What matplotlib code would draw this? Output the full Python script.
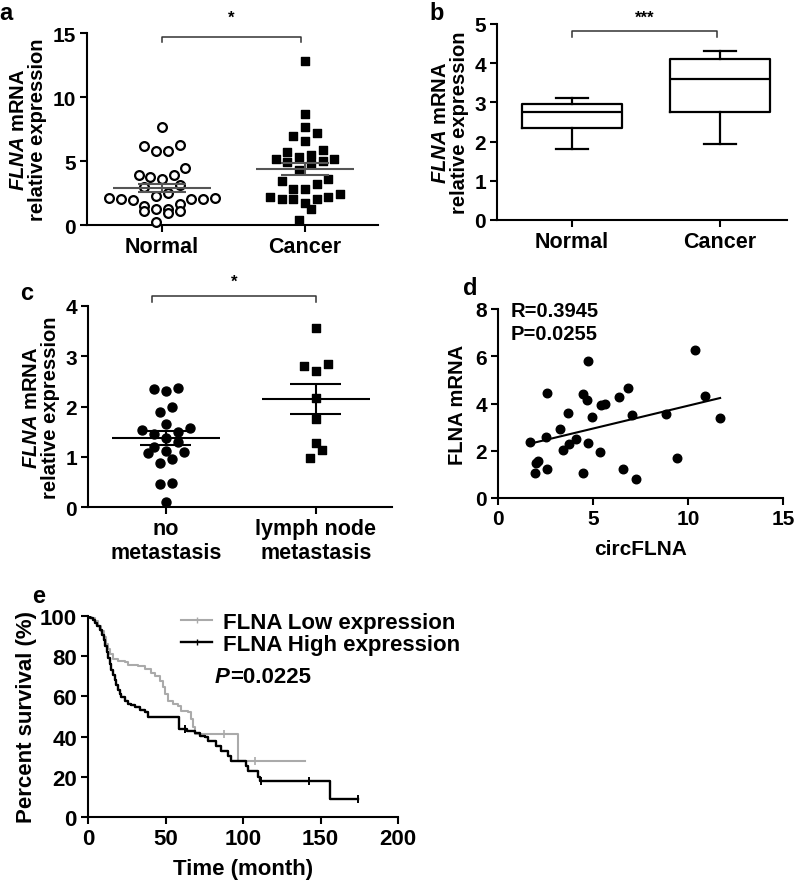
import numpy as np
import matplotlib
matplotlib.use("Agg")
import matplotlib.pyplot as plt
from matplotlib.lines import Line2D

plt.rcParams["font.family"] = ["Liberation Sans", "DejaVu Sans"]
plt.rcParams["font.weight"] = "bold"
plt.rcParams["axes.labelweight"] = "bold"
plt.rcParams["mathtext.fontset"] = "custom"
plt.rcParams["mathtext.rm"] = "Liberation Sans:bold"
plt.rcParams["mathtext.it"] = "Liberation Sans:italic:bold"
plt.rcParams["mathtext.bf"] = "Liberation Sans:bold"

# =============================================================================
# DATA
# =============================================================================

# --- panel a: scatter, Normal vs Cancer
GROUPS_AB = ["Normal", "Cancer"]
a_normal = [7.63, 6.27, 6.19, 5.80, 5.80, 4.49, 3.92, 3.92, 3.76, 3.58, 3.10,
            2.95, 2.53, 2.27, 2.09, 2.09, 2.01, 2.01, 2.01, 1.93, 1.62, 1.49,
            1.28, 1.28, 1.10, 1.10, 0.97, 0.26]
a_cancer = [12.8, 8.7, 7.68, 7.16, 6.98, 6.6, 5.85, 5.67, 5.49, 5.28, 5.15,
            5.15, 4.98, 4.96, 4.75, 4.30, 3.58, 3.45, 3.20, 2.82, 2.78, 2.40,
            2.22, 2.18, 2.07, 2.05, 2.02, 1.75, 1.28, 0.42]
a_mean = [2.89, 4.36]
a_sem = [0.33, 0.47]

# --- panel b: box plot
b_whislo = [1.80, 1.93]
b_q1 = [2.35, 2.75]
b_med = [2.75, 3.60]
b_q3 = [2.97, 4.10]
b_whishi = [3.10, 4.32]

# --- panel c: scatter, metastasis
GROUPS_C = ["no\nmetastasis", "lymph node\nmetastasis"]
c_nometa = [2.36, 2.35, 2.30, 2.00, 1.90, 1.66, 1.57, 1.53, 1.50, 1.45, 1.38,
            1.30, 1.20, 1.12, 1.10, 1.07, 0.96, 0.88, 0.47, 0.46, 0.10]
c_lymph = [3.56, 2.85, 2.81, 2.71, 2.16, 1.75, 1.28, 1.14, 0.97]
c_mean = [1.37, 2.15]
c_sem = [0.14, 0.30]

# --- panel d: correlation
d_circ = [1.67, 1.93, 2.02, 2.11, 2.50, 2.58, 2.58, 3.25, 3.41, 3.67, 3.72,
          4.13, 4.46, 4.48, 4.69, 4.73, 4.75, 4.96, 5.36, 5.40, 5.61, 6.36,
          6.57, 6.84, 7.03, 7.24, 8.86, 9.40, 10.35, 10.88, 11.69]
d_flna = [2.36, 1.06, 1.47, 1.55, 2.57, 4.43, 1.23, 2.92, 2.05, 3.60, 2.28,
          2.50, 4.40, 1.06, 4.16, 2.33, 5.78, 3.44, 1.93, 3.94, 3.98, 4.26,
          1.23, 4.65, 3.53, 0.80, 3.55, 1.68, 6.28, 4.33, 3.37]

# --- panel e: Kaplan-Meier steps
low_t = [0, 2, 4.3, 6.5, 8.6, 10, 11.8, 13, 14, 16.1, 19.4, 23.7, 25.8, 32.3,
         36.6, 40.9, 43, 46.2, 48.4, 49.5, 51.6, 54.8, 58.1, 60.2, 64.5, 66.7,
         67.8, 68.8, 96.8, 139.8]
low_s = [100, 99, 97.5, 95, 92.6, 89.5, 86, 83.5, 81, 78.5, 77.7, 76.9, 75.7,
         75.2, 73.6, 71.4, 70.2, 67.8, 64.5, 61.2, 57.9, 56.2, 55.4, 52.9, 52,
         48.8, 45, 41.3, 28, 28]
low_cens_t = [88.0, 107.5]
low_cens_s = [41.3, 28]

high_t = [0, 1.5, 3, 4.5, 6, 7.5, 9, 10, 11, 12, 13, 14, 15, 16, 17.2, 18.3,
          19.4, 20.5, 21.5, 23.7, 26, 28, 30.1, 33.3, 36.6, 38.7, 58.7, 64,
          68.8, 72, 75.3, 77.4, 82.8, 86, 90.3, 92.5, 102, 103.2, 109.7,
          110.8, 155.9, 174.2]
high_s = [100, 99, 98, 96.5, 95, 93, 90.5, 88, 85, 82, 79, 76, 73, 70.5, 68,
          65.5, 63, 61, 59.5, 57.5, 56.2, 55.5, 54.5, 53.2, 52, 49.6, 43.8,
          43.0, 42, 40.5, 39.7, 37.7, 35.5, 33, 30.6, 28, 25.6, 23.1, 19.8,
          18.2, 9.1, 9.1]
high_cens_t = [62.4, 111.8, 142.4, 174.2]
high_cens_s = [43.8, 18.2, 18.2, 9.1]


# =============================================================================
# HELPERS
# =============================================================================

W, H = 797, 887


def px_axes(fig, left, top, right, bottom):
    """Add axes from pixel edges of the reference image."""
    return fig.add_axes([left / W, 1 - bottom / H, (right - left) / W,
                         (bottom - top) / H])


def style_axes(ax, size=15):
    for s in ("top", "right"):
        ax.spines[s].set_visible(False)
    for s in ("left", "bottom"):
        ax.spines[s].set_linewidth(1.5)
    ax.tick_params(width=1.5, length=5, labelsize=size, direction="out",
                   pad=3)


def scatter_x(ax, center, values, step_px):
    """GraphPad-like column scatter: bin by y, spread each row symmetrically."""
    trans = ax.transData
    inv = trans.inverted()
    cx = trans.transform((center, 0))[0]
    order = np.argsort(values)
    ypx = trans.transform(np.column_stack([np.full(len(values), center),
                                           values]))[:, 1]
    out = np.zeros(len(values))
    rows, row = [], []
    for i in order:
        if row and ypx[i] - ypx[row[0]] >= step_px:
            rows.append(row)
            row = []
        row.append(i)
    rows.append(row)
    for row in rows:
        n = len(row)
        offs = sorted(np.arange(n) - (n - 1) / 2, key=lambda o: (abs(o), o))
        for i, o in zip(row, offs):
            out[i] = inv.transform((cx + o * step_px, ypx[i]))[0]
    return out


def mean_sem(ax, x, mean, sem, color, half=0.34, cap=0.17):
    ax.hlines(mean, x - half, x + half, color=color, lw=1.5, zorder=5)
    ax.hlines([mean - sem, mean + sem], x - cap, x + cap, color=color,
              lw=1.5, zorder=5)
    ax.vlines(x, mean - sem, mean + sem, color=color, lw=1.5, zorder=5)


def bracket(ax, x0, x1, y, h, star, ty):
    ax.plot([x0, x0, x1, x1], [y - h, y, y, y - h], color="#333333", lw=1.1,
            clip_on=False)
    ax.text((x0 + x1) / 2, ty, star, ha="center", va="center", fontsize=12,
            clip_on=False)


FLNA_LABEL = r"$\mathit{FLNA}$ mRNA" + "\nrelative expression"

fig = plt.figure(figsize=(W / 100, H / 100), dpi=100)

# =============================================================================
# a
# =============================================================================
ax = px_axes(fig, 87, 34, 378, 226)
ax.set_xlim(-0.524, 1.51)
ax.set_ylim(0, 15)
style_axes(ax)
xs = scatter_x(ax, 0, a_normal, 11.7)
ax.scatter(xs, a_normal, s=40, facecolor="white", edgecolor="black",
           linewidths=1.6, zorder=3, clip_on=False)
xs = scatter_x(ax, 1, a_cancer, 11.7)
ax.scatter(xs, a_cancer, s=36, marker="s", color="black", zorder=3,
           clip_on=False)
for i in range(2):
    mean_sem(ax, i, a_mean[i], a_sem[i], "#555555")
ax.set_xticks([0, 1], GROUPS_AB, fontsize=15.5)
ax.set_yticks([0, 5, 10, 15])
ax.set_ylabel(FLNA_LABEL, fontsize=14.5, linespacing=1.0, labelpad=4)
bracket(ax, 0, 0.97, 14.7, 0.4, "*", 16.2)

# =============================================================================
# b
# =============================================================================
ax = px_axes(fig, 497, 25, 787, 221)
stats = [dict(whislo=b_whislo[i], q1=b_q1[i], med=b_med[i], q3=b_q3[i],
              whishi=b_whishi[i], label=GROUPS_AB[i]) for i in range(2)]
line = dict(color="black", linewidth=1.6)
ax.bxp(stats, positions=[0, 1], widths=0.67, capwidths=0.22,
       showfliers=False, boxprops=line, whiskerprops=line, capprops=line,
       medianprops=line)
ax.set_xlim(-0.507, 1.453)
ax.set_ylim(0, 5)
style_axes(ax)
ax.set_xticks([0, 1], GROUPS_AB, fontsize=15.5)
ax.set_yticks([0, 1, 2, 3, 4, 5])
ax.set_ylabel(FLNA_LABEL, fontsize=14.5, linespacing=1.0, labelpad=4)
bracket(ax, 0, 0.98, 4.83, 0.17, "***", 5.18)

# =============================================================================
# c
# =============================================================================
ax = px_axes(fig, 88, 307, 392, 508)
ax.set_xlim(-0.52, 1.507)
ax.set_ylim(0, 4)
style_axes(ax)
xs = scatter_x(ax, 0, c_nometa, 12)
ax.scatter(xs, c_nometa, s=42, color="black", zorder=3, clip_on=False)
xs = scatter_x(ax, 1, c_lymph, 12)
ax.scatter(xs, c_lymph, s=40, marker="s", color="black", zorder=3,
           clip_on=False)
for i in range(2):
    mean_sem(ax, i, c_mean[i], c_sem[i], "black", half=0.36)
ax.set_xticks([0, 1], GROUPS_C, fontsize=15.5)
ax.set_yticks([0, 1, 2, 3, 4])
ax.set_ylabel(FLNA_LABEL, fontsize=14.5, linespacing=1.0, labelpad=4)
bracket(ax, -0.09, 1.0, 4.2, 0.12, "*", 4.5)

# =============================================================================
# d
# =============================================================================
ax = px_axes(fig, 498, 310, 783, 499)
ax.set_xlim(0, 15)
ax.set_ylim(0, 8)
style_axes(ax)
ax.scatter(d_circ, d_flna, s=38, color="black", zorder=3, clip_on=False)
slope, icpt = np.polyfit(d_circ, d_flna, 1)
fx = np.array([min(d_circ), max(d_circ)])
ax.plot(fx, slope * fx + icpt, color="black", lw=1.5)
ax.set_xticks([0, 5, 10, 15])
ax.set_yticks([0, 2, 4, 6, 8])
ax.set_xlabel("circFLNA", fontsize=15, labelpad=8)
ax.set_ylabel("FLNA mRNA", fontsize=14.5, labelpad=6)
ax.text(0.045, 0.99, "R=0.3945", transform=ax.transAxes, fontsize=14.5,
        va="center")
ax.text(0.045, 0.868, "P=0.0255", transform=ax.transAxes, fontsize=14.5,
        va="center")

# =============================================================================
# e
# =============================================================================
ax = px_axes(fig, 88, 616.7, 398, 818.3)
ax.set_xlim(0, 200)
ax.set_ylim(0, 100)
style_axes(ax, size=16)
ax.step(low_t, low_s, where="post", color="#aaaaaa", lw=1.5, zorder=2)
ax.step(high_t, high_s, where="post", color="black", lw=1.7, zorder=3)
ax.plot(low_cens_t, low_cens_s, ls="none", marker="|", ms=6, mew=1.2,
        color="#aaaaaa")
ax.plot(high_cens_t, high_cens_s, ls="none", marker="|", ms=6, mew=1.4,
        color="black")
ax.set_xticks([0, 50, 100, 150, 200])
ax.set_yticks([0, 20, 40, 60, 80, 100])
ax.set_xlabel("Time (month)", fontsize=16, labelpad=6)
ax.set_ylabel("Percent survival (%)", fontsize=16, labelpad=2)
handles = [
    Line2D([], [], color="#aaaaaa", lw=1.5, marker="|", ms=5),
    Line2D([], [], color="black", lw=1.7, marker="|", ms=5),
]
ax.legend(handles, ["FLNA Low expression", "FLNA High expression"],
          loc="upper left", bbox_to_anchor=(0.3, 1.02), frameon=False,
          fontsize=16, handlelength=1.4, handletextpad=0.5, borderaxespad=0,
          labelspacing=0.05, borderpad=0)
ptxt = ax.text(0.41, 0.70, "P", transform=ax.transAxes, fontsize=16,
               fontstyle="italic", va="center")
ax.annotate("=0.0225", xy=(1, 0.5), xycoords=ptxt, va="center", fontsize=16)

# panel letters
for lab, x, y in [("a", 6, 2), ("b", 437, 2), ("c", 27, 282),
                  ("d", 470, 277), ("e", 39, 585)]:
    fig.text(x / W, 1 - y / H, lab, fontsize=17, ha="center", va="top")

fig.savefig("out.png", dpi=100)
